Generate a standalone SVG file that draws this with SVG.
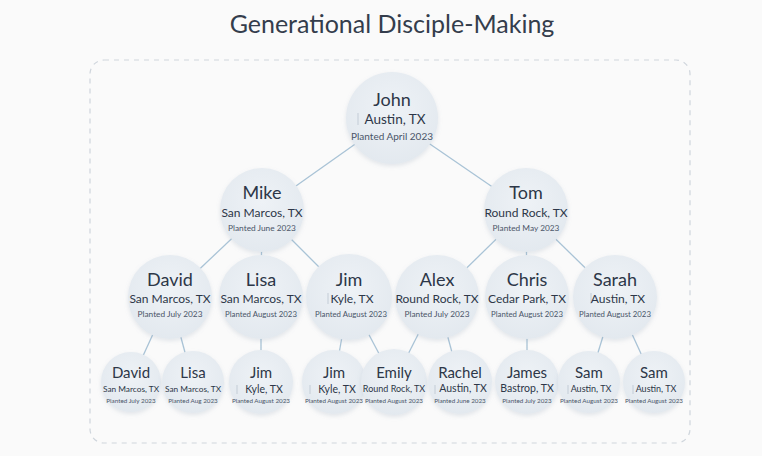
<svg xmlns="http://www.w3.org/2000/svg" width="762" height="456" viewBox="0 0 762 456">
<defs>
<radialGradient id="g" cx="50%" cy="40%" r="60%">
<stop offset="0" stop-color="#eef2f6"/>
<stop offset="1" stop-color="#e3e9ef"/>
</radialGradient>
<filter id="sh" x="-20%" y="-20%" width="140%" height="150%">
<feDropShadow dx="0" dy="2" stdDeviation="2" flood-color="#8a9bb0" flood-opacity="0.22"/>
</filter>
</defs>
<style>
text{font-family:Lato,"Open Sans","Liberation Sans",sans-serif;text-anchor:middle;fill:#2d3748}
.t{font-size:25px;fill:#343d4c}
.c{fill:url(#g);filter:url(#sh)}
.n1{font-size:18px}
.l0{font-size:13.5px}
.l1{font-size:12px}
.p0{font-size:10px;fill:#4a5568}
.p1{font-size:8.3px;fill:#4a5568}
.p2{font-size:7.8px;fill:#4a5568}
.n3{font-size:15px}
.l3{font-size:8.3px}
.l4{font-size:10.5px}
.p3{font-size:6.3px;fill:#4a5568}
.bar{stroke:#c3ccd6;stroke-width:1}
#edges line{stroke:#a9c3d6;stroke-width:1.3}
</style>
<rect width="762" height="456" fill="#fafafa"/>
<text class="t" x="392" y="33">Generational Disciple-Making</text>
<rect x="90" y="60" width="600" height="383" rx="14" fill="none" stroke="#cfd5dc" stroke-width="1.2" stroke-dasharray="5 5"/>
<g id="edges">
<line x1="392" y1="118" x2="262" y2="210"/>
<line x1="392" y1="118" x2="526" y2="210"/>
<line x1="262" y1="210" x2="170" y2="297"/>
<line x1="262" y1="210" x2="261" y2="297"/>
<line x1="262" y1="210" x2="349" y2="297"/>
<line x1="526" y1="210" x2="437" y2="297"/>
<line x1="526" y1="210" x2="527" y2="297"/>
<line x1="526" y1="210" x2="615" y2="297"/>
<line x1="170" y1="297" x2="131" y2="382"/>
<line x1="170" y1="297" x2="193" y2="382"/>
<line x1="261" y1="297" x2="261" y2="382"/>
<line x1="349" y1="297" x2="334" y2="382"/>
<line x1="349" y1="297" x2="394" y2="382"/>
<line x1="437" y1="297" x2="394" y2="382"/>
<line x1="437" y1="297" x2="460" y2="382"/>
<line x1="527" y1="297" x2="527" y2="382"/>
<line x1="615" y1="297" x2="589" y2="382"/>
<line x1="615" y1="297" x2="654" y2="382"/>
</g>
<g id="john"><circle class="c" cx="392" cy="118" r="46"/><text class="n1" x="392" y="106">John</text><line class="bar" x1="358" y1="113" x2="358" y2="125"/><text class="l0" x="395" y="124">Austin, TX</text><text class="p0" x="392" y="140">Planted April 2023</text></g>
<g id="mike"><circle class="c" cx="262" cy="210" r="42"/><text class="n1" x="262" y="199">Mike</text><text class="l1" x="262" y="217">San Marcos, TX</text><text class="p1" x="262" y="231">Planted June 2023</text></g>
<g id="tom"><circle class="c" cx="526" cy="210" r="42"/><text class="n1" x="526" y="199">Tom</text><text class="l1" x="526" y="217">Round Rock, TX</text><text class="p1" x="526" y="231">Planted May 2023</text></g>
<g id="david1"><circle class="c" cx="170" cy="297" r="42"/><text class="n1" x="170" y="286">David</text><text class="l1" x="170" y="303">San Marcos, TX</text><text class="p1" x="170" y="317">Planted July 2023</text></g>
<g id="lisa1"><circle class="c" cx="261" cy="297" r="42"/><text class="n1" x="261" y="286">Lisa</text><text class="l1" x="261" y="303">San Marcos, TX</text><text class="p2" x="261" y="317">Planted August 2023</text></g>
<g id="jim1"><circle class="c" cx="349" cy="297" r="43"/><text class="n1" x="349" y="286">Jim</text><line class="bar" x1="328" y1="293" x2="328" y2="304"/><text class="l1" x="352" y="303">Kyle, TX</text><text class="p2" x="351" y="317">Planted August 2023</text></g>
<g id="alex"><circle class="c" cx="437" cy="297" r="42"/><text class="n1" x="437" y="286">Alex</text><text class="l1" x="437" y="303">Round Rock, TX</text><text class="p1" x="437" y="317">Planted July 2023</text></g>
<g id="chris"><circle class="c" cx="527" cy="297" r="42"/><text class="n1" x="527" y="286">Chris</text><text class="l1" x="527" y="303">Cedar Park, TX</text><text class="p2" x="527" y="317">Planted August 2023</text></g>
<g id="sarah"><circle class="c" cx="615" cy="297" r="42"/><text class="n1" x="615" y="286">Sarah</text><line class="bar" x1="591" y1="293" x2="591" y2="304"/><text class="l1" x="618" y="303">Austin, TX</text><text class="p2" x="615" y="317">Planted August 2023</text></g>
<g id="david2"><circle class="c" cx="131" cy="382" r="30"/><text class="n3" x="131" y="378">David</text><text class="l3" x="131" y="392">San Marcos, TX</text><text class="p3" x="131" y="403">Planted July 2023</text></g>
<g id="lisa2"><circle class="c" cx="193" cy="382" r="31"/><text class="n3" x="193" y="378">Lisa</text><text class="l3" x="193" y="392">San Marcos, TX</text><text class="p3" x="193" y="403">Planted Aug 2023</text></g>
<g id="jim2"><circle class="c" cx="261" cy="382" r="32"/><text class="n3" x="261" y="378">Jim</text><line class="bar" x1="237" y1="385" x2="237" y2="394"/><text class="l4" x="264" y="393">Kyle, TX</text><text class="p3" x="261" y="403">Planted August 2023</text></g>
<g id="jim3"><circle class="c" cx="334" cy="382" r="32"/><text class="n3" x="334" y="378">Jim</text><line class="bar" x1="310" y1="385" x2="310" y2="394"/><text class="l4" x="337" y="393">Kyle, TX</text><text class="p3" x="334" y="403">Planted August 2023</text></g>
<g id="emily"><circle class="c" cx="394" cy="382" r="33"/><text class="n3" x="394" y="378">Emily</text><text class="l3" style="font-size:9px" x="394" y="392">Round Rock, TX</text><text class="p3" x="394" y="403">Planted August 2023</text></g>
<g id="rachel"><circle class="c" cx="460" cy="382" r="32"/><text class="n3" x="460" y="378">Rachel</text><line class="bar" x1="435" y1="385" x2="435" y2="394"/><text class="l4" x="463" y="392">Austin, TX</text><text class="p3" x="460" y="403">Planted June 2023</text></g>
<g id="james"><circle class="c" cx="527" cy="382" r="32"/><text class="n3" x="527" y="378">James</text><text class="l4" x="527" y="392">Bastrop, TX</text><text class="p3" x="527" y="403">Planted July 2023</text></g>
<g id="sam1"><circle class="c" cx="589" cy="382" r="31"/><text class="n3" x="589" y="378">Sam</text><line class="bar" x1="568" y1="385" x2="568" y2="394"/><text class="l3" style="font-size:9px" x="591" y="392">Austin, TX</text><text class="p3" x="589" y="403">Planted August 2023</text></g>
<g id="sam2"><circle class="c" cx="654" cy="382" r="31"/><text class="n3" x="654" y="378">Sam</text><line class="bar" x1="633" y1="385" x2="633" y2="394"/><text class="l3" style="font-size:9px" x="656" y="392">Austin, TX</text><text class="p3" x="654" y="403">Planted August 2023</text></g>
</svg>
